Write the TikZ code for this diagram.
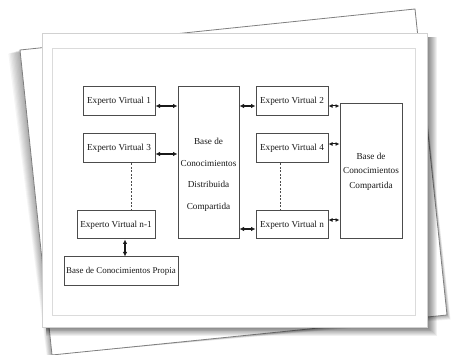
\documentclass[tikz,border=0pt]{standalone}
\usepackage{fontspec}
\setmainfont{Liberation Serif}
\usetikzlibrary{arrows.meta,calc}
\begin{document}
\begin{tikzpicture}[x=1pt,y=-1pt,
  box/.style={draw=black!70,line width=1pt,fill=white,inner sep=0pt,font=\fontsize{9.2}{10}\selectfont,text=black!90},
  link/.style={black!90,line width=1.2pt,{Latex[length=4.5pt,width=4.5pt]}-{Latex[length=4.5pt,width=4.5pt]}},
  shortlink/.style={black!90,line width=1pt,{Latex[length=4pt,width=4pt]}-{Latex[length=4pt,width=4pt]}},
  dots/.style={black!70,line width=0.8pt,dash pattern=on 2pt off 1.5pt}]
\useasboundingbox (0,0) rectangle (451,355);
\fill[white] (0,0) rectangle (451,355);
% back paper shadow
\foreach \i in {1,...,9}
  \fill[black,opacity=0.04] (20-1.3*\i,50+0.4*\i) -- (415,9) -- (447+0.4*\i,315+0.5*\i) -- (52-0.6*\i,355) -- cycle;
% back paper
\filldraw[fill=white,draw=black!50,line width=0.8pt] (20,50) -- (415,9) -- (447,315) -- (52,355) -- cycle;
% front paper shadow
\foreach \i in {1,...,10}
  \fill[black,opacity=0.06] (46,37) rectangle (427+\i,327+0.9*\i);
% front paper
\filldraw[fill=white,draw=black!18,line width=0.4pt] (42,33) rectangle (427,327);
\draw[black!14,line width=0.7pt] (52,48) rectangle (415,315);
% nodes
\node[box,minimum width=72pt,minimum height=29pt] (ev1) at (119,101.5) {Experto Virtual 1};
\node[box,minimum width=72pt,minimum height=29pt] (ev3) at (119,148.5) {Experto Virtual 3};
\node[box,minimum width=78pt,minimum height=28pt] (evn1) at (116,225) {Experto Virtual n-1};
\node[box,minimum width=114pt,minimum height=29pt,font=\fontsize{8.9}{10}\selectfont] (bcp) at (121,271.5) {Base de Conocimientos Propia};
\node[box,minimum width=61pt,minimum height=152pt,
  label={[font=\fontsize{9.2}{21.5}\selectfont,align=center,yshift=-12pt,text=black!90]center:Base de\\Conocimientos\\Distribuida\\Compartida}] (bcdc) at (208.5,163) {};
\node[box,minimum width=72pt,minimum height=29pt] (ev2) at (292,101.5) {Experto Virtual 2};
\node[box,minimum width=72pt,minimum height=29pt] (ev4) at (292,148.5) {Experto Virtual 4};
\node[box,minimum width=72pt,minimum height=28pt] (evn) at (292,225) {Experto Virtual n};
\node[box,minimum width=62pt,minimum height=135pt,align=center,font=\fontsize{9.2}{14.5}\selectfont] (bcc) at (371,171.5) {Base de\\Conocimientos\\Compartida};
% connectors
\draw[link] ($(ev1.east)+(0,4.5)$) -- ($(ev1.east -| bcdc.west)+(0,4.5)$);
\draw[link] ($(ev3.east)+(0,5.5)$) -- ($(ev3.east -| bcdc.west)+(0,5.5)$);
\draw[link] ($(ev2.west -| bcdc.east)+(0,4.5)$) -- ($(ev2.west)+(0,4.5)$);
\draw[link] ($(evn.west -| bcdc.east)+(0,4)$) -- ($(evn.west)+(0,4)$);
\draw[shortlink] ($(ev2.east)+(0,4.5)$) -- ($(ev2.east -| bcc.west)+(0,4.5)$);
\draw[shortlink] ($(ev4.east)+(0,-4.5)$) -- ($(ev4.east -| bcc.west)+(0,-4.5)$);
\draw[shortlink] ($(evn.east)+(0,-5)$) -- ($(evn.east -| bcc.west)+(0,-5)$);
\draw[link] ($(evn1.south)+(9,0)$) -- ($(evn1.south |- bcp.north)+(9,0)$);
\draw[dots] ($(ev3.south)+(12,0)$) -- ($(ev3.south |- evn1.north)+(12,0)$);
\draw[dots] ($(ev4.south)+(-12,0)$) -- ($(ev4.south |- evn.north)+(-12,0)$);
\end{tikzpicture}
\end{document}
